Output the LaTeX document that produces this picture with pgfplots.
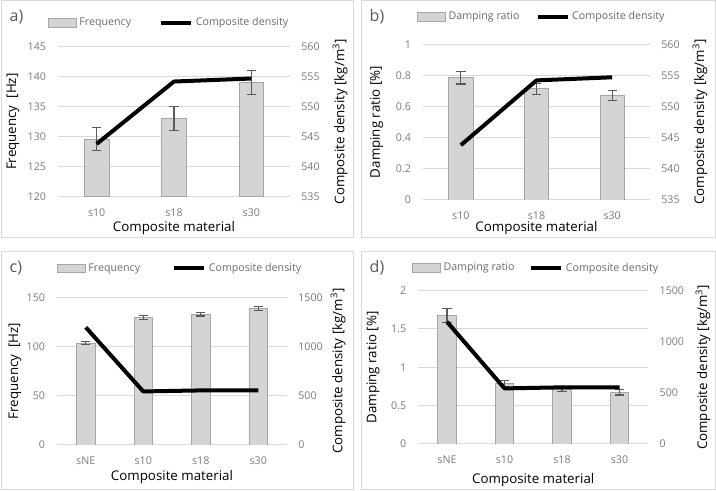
\documentclass[border=0pt]{standalone}
\usepackage{fontspec}
\setmainfont{Open Sans}
\usepackage{pgfplots}
\pgfplotsset{compat=1.18}

\definecolor{barfill}{HTML}{D4D4D4}
\definecolor{baredge}{HTML}{A6A6A6}
\definecolor{errcol}{HTML}{595959}
\definecolor{gridcol}{HTML}{D9D9D9}
\definecolor{tickcol}{HTML}{7A7A7A}
\definecolor{legcol}{HTML}{6A6A6A}
\definecolor{framecol}{HTML}{D9D9D9}

% Frequency / damping with standard deviation
\pgfplotstableread{
x  y      e
0  129.6  1.9
1  133.0  2.0
2  139.0  2.0
}\freqthree
\pgfplotstableread{
x  y      e
0  103.5  1.5
1  129.6  1.9
2  133.0  2.0
3  139.0  2.0
}\freqfour
\pgfplotstableread{
x  y      e
0  0.785  0.040
1  0.715  0.035
2  0.672  0.033
}\dampthree
\pgfplotstableread{
x  y      e
0  1.68   0.09
1  0.785  0.040
2  0.715  0.035
3  0.672  0.033
}\dampfour
% Composite density
\pgfplotstableread{
x  y
0  543.8
1  554.2
2  554.7
}\densthree
\pgfplotstableread{
x  y
0  1195
1  543.8
2  554.2
3  554.7
}\densfour

\pgfplotsset{
  barlegend/.style={legend image code/.code={%
    \draw[fill=barfill, draw=baredge, line width=0.4pt] (0pt,-3.2pt) rectangle (21pt,3.2pt);}},
  linelegend/.style={legend image code/.code={%
    \draw[black, line width=3pt] (0pt,0pt) -- (22.5pt,0pt);}},
  panel/.style={
    scale only axis,
    anchor=south west,
    axis line style={draw=none},
    major tick length=0pt,
    tick label style={font=\fontsize{8}{9.6}\selectfont, text=tickcol},
    /pgf/number format/assume math mode=true,
    /pgf/number format/1000 sep={},
    label style={font=\fontsize{10}{12}\selectfont, text=black},
    xtick=data,
    xticklabel style={yshift=-5.5pt},
  },
  leftaxis/.style={
    panel,
    ymajorgrids,
    grid style={gridcol, line width=0.75pt},
    yticklabel style={xshift=-5.5pt},
    legend style={draw=none, fill=none, inner sep=0pt, anchor=west,
      legend columns=2, font=\fontsize{8}{9.6}\selectfont, text=legcol,
      /tikz/every odd column/.append style={column sep=0pt}},
    legend cell align=left,
  },
  rightaxis/.style={
    panel,
    axis y line*=right,
    axis x line=none,
    yticklabel style={xshift=5pt},
  },
  bars/.style={
    ybar, bar width=0.32, fill=barfill, draw=baredge, line width=0.5pt, barlegend,
    error bars/.cd, y dir=both, y explicit,
    error bar style={errcol, line width=0.8pt},
    error mark options={errcol, rotate=90, mark size=3.5pt, line width=0.8pt},
  },
  densline/.style={black, line width=3pt, mark=none, line join=round},
}

\begin{document}
\begin{tikzpicture}[x=0.75pt, y=0.75pt]
\useasboundingbox (0,0) rectangle (716,491);

% panel frames
\draw[framecol, line width=0.75pt] (1,490) rectangle (353,253);
\draw[framecol, line width=0.75pt] (361,490) rectangle (715,253);
\draw[framecol, line width=0.75pt] (1,239) rectangle (353,1);
\draw[framecol, line width=0.75pt] (361,239) rectangle (715,1);

% ---------------- a) ----------------
\begin{axis}[leftaxis, at={(43.5pt,220.7pt)}, width=174pt, height=112.5pt,
  xmin=-0.5, xmax=2.5, xticklabels={s10,s18,s30},
  ymin=120, ymax=145, ytick={120,125,...,145},
  ylabel={Frequency\ \ [Hz]}, xlabel={Composite material},
  ylabel style={at={(axis description cs:-0.194,0.5)}, anchor=center},
  xlabel style={at={(axis description cs:0.5,-0.212)}, anchor=center},
  legend style={at={(axis description cs:-0.043,1.16)},
    /tikz/every even column/.append style={column sep=19pt}}]
\addplot[bars] table[x=x, y=y, y error=e] {\freqthree};
\addlegendentry{Frequency}
\addlegendimage{linelegend}
\addlegendentry{Composite density}
\end{axis}
\begin{axis}[rightaxis, at={(43.5pt,220.7pt)}, width=174pt, height=112.5pt,
  xmin=-0.5, xmax=2.5, xticklabels={},
  ymin=535, ymax=560, ytick={535,540,...,560},
  ylabel={Composite density [kg/m\textsuperscript{3}]},
  ylabel style={at={(axis description cs:1.216,0.5)}, anchor=center}]
\addplot[densline] table[x=x, y=y] {\densthree};
\end{axis}
\node[anchor=west, font=\fontsize{12}{14}\selectfont, text=errcol] at (5,474) {a)};

% ---------------- b) ----------------
\begin{axis}[leftaxis, at={(317.25pt,218.25pt)}, width=170.25pt, height=116.8pt,
  xmin=-0.5, xmax=2.5, xticklabels={s10,s18,s30},
  ymin=0, ymax=1, ytick={0,0.2,...,1},
  ylabel={Damping ratio [\%]}, xlabel={Composite material},
  ylabel style={at={(axis description cs:-0.204,0.5)}, anchor=center},
  xlabel style={at={(axis description cs:0.5,-0.18)}, anchor=center},
  legend style={at={(axis description cs:-0.026,1.177)},
    /tikz/every even column/.append style={column sep=10pt}}]
\addplot[bars] table[x=x, y=y, y error=e] {\dampthree};
\addlegendentry{Damping ratio}
\addlegendimage{linelegend}
\addlegendentry{Composite density}
\end{axis}
\begin{axis}[rightaxis, at={(317.25pt,218.25pt)}, width=170.25pt, height=116.8pt,
  xmin=-0.5, xmax=2.5, xticklabels={},
  ymin=535, ymax=560, ytick={535,540,...,560},
  ylabel={Composite density [kg/m\textsuperscript{3}]},
  ylabel style={at={(axis description cs:1.22,0.5)}, anchor=center}]
\addplot[densline] table[x=x, y=y] {\densthree};
\end{axis}
\node[anchor=west, font=\fontsize{12}{14}\selectfont, text=errcol] at (365,474) {b)};

% ---------------- c) ----------------
\begin{axis}[leftaxis, at={(42.75pt,34.5pt)}, width=172.5pt, height=110.8pt,
  xmin=-0.5, xmax=3.5, xticklabels={sNE,s10,s18,s30},
  ymin=0, ymax=150, ytick={0,50,100,150},
  ylabel={Frequency\ \ [Hz]}, xlabel={Composite material},
  ylabel style={at={(axis description cs:-0.183,0.5)}, anchor=center},
  xlabel style={at={(axis description cs:0.5,-0.215)}, anchor=center},
  legend style={at={(axis description cs:0,1.196)},
    /tikz/every even column/.append style={column sep=22pt}}]
\addplot[bars] table[x=x, y=y, y error=e] {\freqfour};
\addlegendentry{Frequency}
\addlegendimage{linelegend}
\addlegendentry{Composite density}
\end{axis}
\begin{axis}[rightaxis, at={(42.75pt,34.5pt)}, width=172.5pt, height=110.8pt,
  xmin=-0.5, xmax=3.5, xticklabels={},
  ymin=0, ymax=1500, ytick={0,500,1000,1500},
  ylabel={Composite density [kg/m\textsuperscript{3}]},
  ylabel style={at={(axis description cs:1.222,0.5)}, anchor=center}]
\addplot[densline] table[x=x, y=y] {\densfour};
\end{axis}
\node[anchor=west, font=\fontsize{12}{14}\selectfont, text=errcol] at (5,223) {c)};

% ---------------- d) ----------------
\begin{axis}[leftaxis, at={(313.7pt,35.25pt)}, width=172.5pt, height=115pt,
  xmin=-0.5, xmax=3.5, xticklabels={sNE,s10,s18,s30},
  ymin=0, ymax=2, ytick={0,0.5,...,2},
  ylabel={Damping ratio [\%]}, xlabel={Composite material},
  ylabel style={at={(axis description cs:-0.197,0.5)}, anchor=center},
  xlabel style={at={(axis description cs:0.5,-0.235)}, anchor=center},
  legend style={at={(axis description cs:-0.027,1.148)},
    /tikz/every even column/.append style={column sep=9pt}}]
\addplot[bars] table[x=x, y=y, y error=e] {\dampfour};
\addlegendentry{Damping ratio}
\addlegendimage{linelegend}
\addlegendentry{Composite density}
\end{axis}
\begin{axis}[rightaxis, at={(313.7pt,35.25pt)}, width=172.5pt, height=115pt,
  xmin=-0.5, xmax=3.5, xticklabels={},
  ymin=0, ymax=1500, ytick={0,500,1000,1500},
  ylabel={Composite density [kg/m\textsuperscript{3}]},
  ylabel style={at={(axis description cs:1.238,0.5)}, anchor=center}]
\addplot[densline] table[x=x, y=y] {\densfour};
\end{axis}
\node[anchor=west, font=\fontsize{12}{14}\selectfont, text=errcol] at (365,223) {d)};
\end{tikzpicture}
\end{document}
